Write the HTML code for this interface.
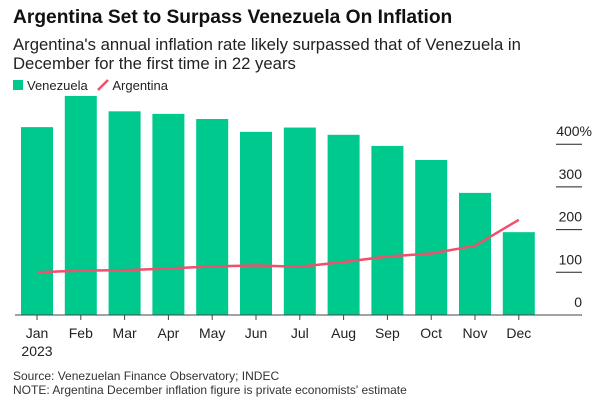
<!DOCTYPE html>
<html><head><meta charset="utf-8"><style>
body{margin:0;width:605px;height:404px;background:#fff;font-family:"Liberation Sans",sans-serif;overflow:hidden;position:relative}
.t{position:absolute;left:13px;white-space:nowrap}
</style></head><body>
<div class="t" style="top:7px;font-size:19.2px;font-weight:bold;color:#111">Argentina Set to Surpass Venezuela On Inflation</div>
<div class="t" style="top:35px;font-size:16.7px;line-height:19px;color:#222">Argentina's annual inflation rate likely surpassed that of Venezuela in<br>December for the first time in 22 years</div>
<div class="t" style="top:78px;font-size:13px;color:#222">
<span><span style="display:inline-block;width:10px;height:10px;background:#00c98d;margin-right:4px"></span>Venezuela</span>
<span style="margin-left:6px"><svg width="12" height="12" style="vertical-align:-1px;margin-right:3px"><line x1="1" y1="11" x2="11" y2="1" stroke="#f0506e" stroke-width="2.5"/></svg>Argentina</span>
</div>
<svg id="c" width="605" height="404" style="position:absolute;left:0;top:0"></svg>
<div class="t" style="top:369px;font-size:12px;color:#333">Source: Venezuelan Finance Observatory; INDEC</div>
<div class="t" style="top:383px;font-size:12px;color:#333">NOTE: Argentina December inflation figure is private economists' estimate</div>
<script>
const categories=["Jan","Feb","Mar","Apr","May","Jun","Jul","Aug","Sep","Oct","Nov","Dec"];
const venezuela=[440,513,477,471,459,429,439,422,396,363,286,194];
const argentina=[100,104,105,109,114,116,113,124,137,144,162,223];
const ticks=[0,100,200,300,400];
const tickLabels=["0","100","200","300","400%"];
const ns="http://www.w3.org/2000/svg",svg=document.getElementById('c');
const y=v=>315-v*0.427, x=i=>37+i*43.8;
function mk(t,a){const e=document.createElementNS(ns,t);for(const k in a)e.setAttribute(k,a[k]);svg.appendChild(e);return e;}
ticks.forEach((t,i)=>{
 const l=mk('line',{x1:556,x2:582,y1:y(t),y2:y(t),stroke:'#222','stroke-width':1});
 
 
 const tx=mk('text',{x:582,y:y(t)-8,'text-anchor':'end','font-size':14,fill:'#222'});
 tx.textContent=tickLabels[i];
 if(i==4)tx.setAttribute('x',592);
 
 
});
venezuela.forEach((v,i)=>{
 const r=mk('rect',{x:x(i)-16,y:y(v),width:32,height:315-y(v),fill:'#00c98d'});
 
 
});
const ax=mk('line',{x1:15,x2:581,y1:315,y2:315,stroke:'#444','stroke-width':1});


categories.forEach((c,i)=>{
 const tk=mk('line',{x1:x(i),x2:x(i),y1:315,y2:320,stroke:'#444'});
 
 
 const t=mk('text',{x:x(i),y:338,'text-anchor':'middle','font-size':14,fill:'#222'});
 t.textContent=c;
 
 
});
const yr=mk('text',{x:x(0),y:356,'text-anchor':'middle','font-size':14,fill:'#222'});yr.textContent='2023';


const p=mk('polyline',{points:argentina.map((v,i)=>x(i)+','+y(v)).join(' '),fill:'none',stroke:'#f0506e','stroke-width':2.5,'stroke-linejoin':'round'});


</script>
</body></html>
